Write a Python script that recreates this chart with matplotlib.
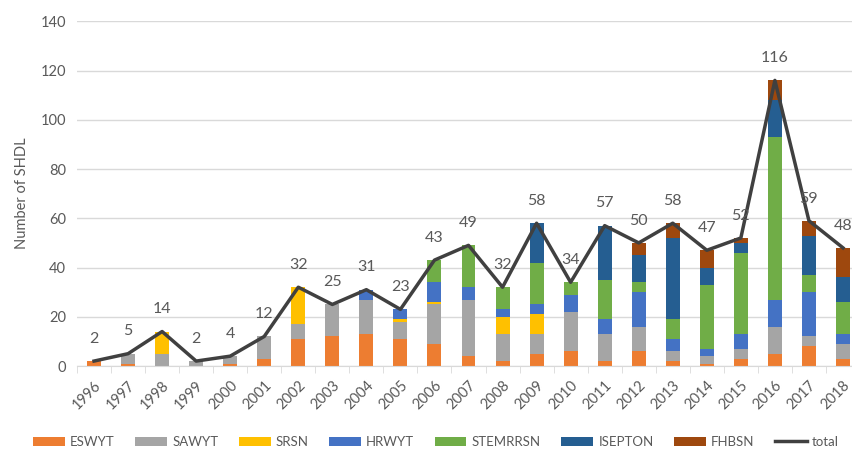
import matplotlib
matplotlib.use("Agg")
import matplotlib.pyplot as plt
import numpy as np
from matplotlib.lines import Line2D
from matplotlib.patches import Patch

plt.rcParams['font.family'] = ['Lato', 'DejaVu Sans']

years = [str(y) for y in range(1996, 2019)]
ESWYT    = [2, 1, 0, 0, 1, 3, 11, 12, 13, 11, 9, 4, 2, 5, 6, 2, 6, 2, 1, 3, 5, 8, 3]
SAWYT    = [0, 4, 5, 2, 3, 9, 6, 13, 14, 7, 16, 23, 11, 8, 16, 11, 10, 4, 3, 4, 11, 4, 6]
SRSN     = [0, 0, 9, 0, 0, 0, 15, 0, 0, 1, 1, 0, 7, 8, 0, 0, 0, 0, 0, 0, 0, 0, 0]
HRWYT    = [0, 0, 0, 0, 0, 0, 0, 0, 4, 4, 8, 5, 3, 4, 7, 6, 14, 5, 3, 6, 11, 18, 4]
STEMRRSN = [0, 0, 0, 0, 0, 0, 0, 0, 0, 0, 9, 17, 9, 17, 5, 16, 4, 8, 26, 33, 66, 7, 13]
ISEPTON  = [0, 0, 0, 0, 0, 0, 0, 0, 0, 0, 0, 0, 0, 16, 0, 22, 11, 33, 7, 4, 15, 16, 10]
FHBSN    = [0, 0, 0, 0, 0, 0, 0, 0, 0, 0, 0, 0, 0, 0, 0, 0, 5, 6, 7, 2, 8, 6, 12]
total    = [2, 5, 14, 2, 4, 12, 32, 25, 31, 23, 43, 49, 32, 58, 34, 57, 50, 58, 47, 52, 116, 59, 48]

series = [("ESWYT", ESWYT, "#ED7D31"), ("SAWYT", SAWYT, "#A5A5A5"),
          ("SRSN", SRSN, "#FFC000"), ("HRWYT", HRWYT, "#4472C4"),
          ("STEMRRSN", STEMRRSN, "#70AD47"), ("ISEPTON", ISEPTON, "#255E91"),
          ("FHBSN", FHBSN, "#9E480E")]

W, H = 852, 451
fig = plt.figure(figsize=(W/100, H/100), dpi=100)
ax = fig.add_axes([77/W, 85/H, (860-77)/W, (366-21.3)/H])

x = np.arange(len(years))
bottom = np.zeros(len(years))
handles = []
for name, vals, col in series:
    v = np.array(vals, dtype=float)
    ax.bar(x, v, 0.41, bottom=bottom, color=col, zorder=2)
    bottom += v
    handles.append(Patch(facecolor=col, label=name))

ax.plot(x, total, color="#404040", lw=2.5, zorder=3)
for xi, t in zip(x, total):
    ax.annotate(str(t), (xi, t), xytext=(0, 16), textcoords="offset points",
                ha="center", va="center", fontsize=11.5, color="#595959", zorder=4)
handles.append(Line2D([0], [0], color="#404040", lw=2.5, label="total"))

ax.set_xlim(-0.5, len(years) - 0.5)
ax.set_ylim(0, 140)
ax.set_yticks(range(0, 141, 20))
ax.yaxis.grid(True, color="#D9D9D9", lw=1, zorder=0)
ax.set_axisbelow(True)
for s in ["top", "right", "left"]:
    ax.spines[s].set_visible(False)
ax.spines["bottom"].set_color("#D9D9D9")
ax.tick_params(axis="y", length=0, labelsize=10.5, labelcolor="#595959", pad=8)
ax.set_xticks(x)
ax.set_xticklabels(years, rotation=45, ha="right", rotation_mode="anchor")
ax.tick_params(axis="x", which="major", length=0, labelsize=10.5, labelcolor="#595959", pad=9)
ax.set_xticks(np.arange(-0.5, len(years), 1), minor=True)
ax.tick_params(axis="x", which="minor", length=5, color="#D9D9D9")
ax.set_ylabel("Number of SHDL", fontsize=10.5, color="#595959", labelpad=8)

fig.legend(handles=handles, loc="center", bbox_to_anchor=(436/W, 1 - 442/H), ncol=8,
           frameon=False, fontsize=9.5, handlelength=2.4, handleheight=0.7,
           columnspacing=1.55, handletextpad=0.4, labelcolor="#595959")

fig.savefig("out.png", dpi=100)
